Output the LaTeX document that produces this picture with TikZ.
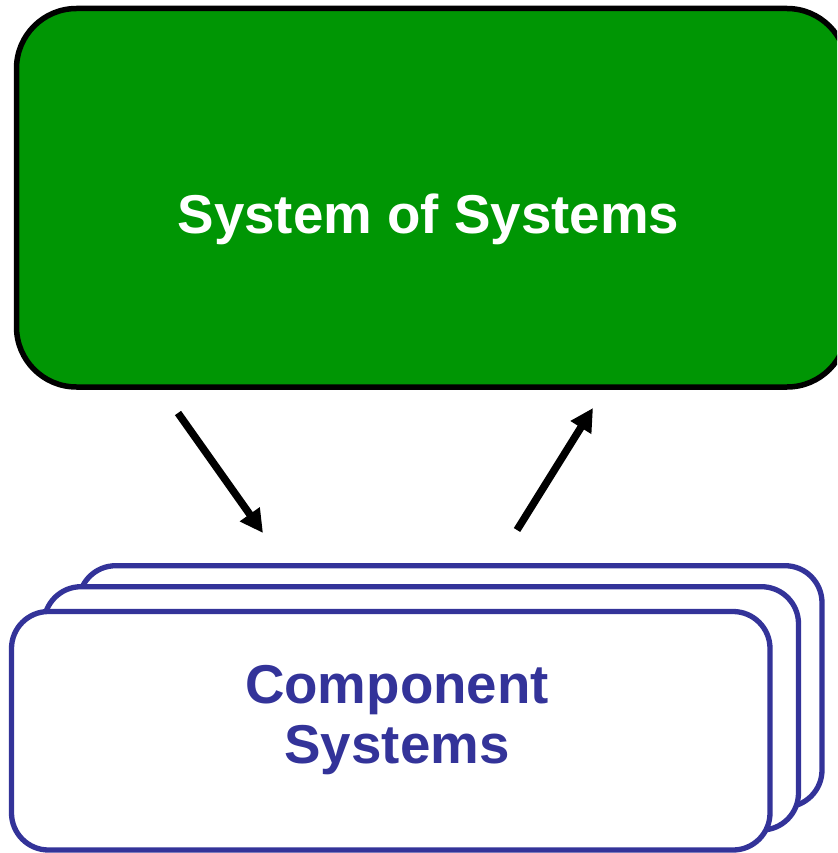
\documentclass[tikz,border=0pt]{standalone}
\usepackage{fontspec}
\setmainfont{Liberation Sans}
\usetikzlibrary{arrows.meta}
\definecolor{sosgreen}{RGB}{0,150,4}
\definecolor{compblue}{RGB}{51,51,153}
\tikzset{
  sosbox/.style={draw=black, fill=sosgreen, line width=5.5pt, rounded corners=60pt, inner sep=0pt, outer sep=0pt},
  compbox/.style={draw=compblue, fill=white, line width=5.3pt, rounded corners=37pt, inner sep=0pt, outer sep=0pt},
  bigtext/.style={font=\fontsize{54.7}{60}\selectfont\bfseries, inner sep=0pt},
  arr/.style={line width=7.5pt, -{Triangle[length=23pt,width=23pt]}}
}
\begin{document}
\begin{tikzpicture}[x=1pt, y=-1pt]
\clip (0,0) rectangle (837,853);
\fill[white] (0,0) rectangle (837,853);
% System of Systems
\node[sosbox, minimum width=830.5pt, minimum height=378.5pt] (sos) at (431.75,197.75) {};
\node[bigtext, text=white, anchor=base] (soslabel) at (428.5,233) {System of Systems};
% Component systems stack
\node[compbox, minimum width=743.3pt, minimum height=241.3pt] (back) at (450.35,686.35) {};
\node[compbox, minimum width=754.5pt, minimum height=243.3pt] (middle) at (421.25,708.35) {};
\node[compbox, minimum width=758.5pt, minimum height=238.5pt] (front) at (390.75,730.75) {};
\node[bigtext, text=compblue, align=center, anchor=base] (complabel) at (397,763) {Component\\Systems};
% arrows
\coordinate (downstart) at (178,413);
\coordinate (downend) at (263,533);
\coordinate (upstart) at (517,530);
\coordinate (upend) at (593,408);
\draw[arr] (downstart) -- (downend);
\draw[arr] (upstart) -- (upend);
\end{tikzpicture}
\end{document}
